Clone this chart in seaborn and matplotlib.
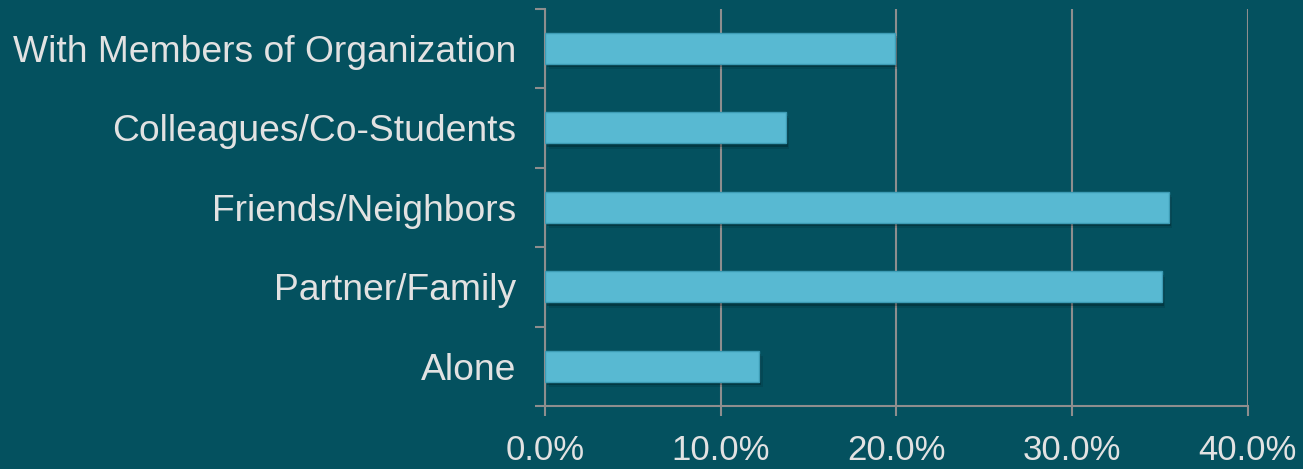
import numpy as np
import pandas as pd
import matplotlib
matplotlib.use('Agg')
import matplotlib.pyplot as plt
import matplotlib.patheffects as pe
from matplotlib.ticker import FixedLocator, PercentFormatter
import seaborn as sns

# data
categories = ['With Members of Organization', 'Colleagues/Co-Students',
              'Friends/Neighbors', 'Partner/Family', 'Alone']
shares = [19.9, 13.7, 35.5, 35.1, 12.2]

bg = '#04515F'
bar_color = '#58B9D2'
line_gray = '#8E8E8E'
text_col = '#E2E2E2'

sns.set_theme(style='white')
plt.rcParams['font.family'] = ['Liberation Sans', 'DejaVu Sans']

df = pd.DataFrame({'category': categories, 'share': shares})

fig = plt.figure(figsize=(13.03, 4.69), dpi=100, facecolor=bg)
ax = fig.add_axes([0.4183, 0.1343, 0.5393, 0.8472])
ax.set_facecolor(bg)

sns.barplot(data=df, x='share', y='category', orient='h', color=bar_color,
            width=0.39, edgecolor='#3D9CB5', linewidth=1, saturation=1, ax=ax)

# soft drop shadow under the bars
for p in ax.patches:
    p.set_path_effects([pe.SimplePatchShadow(offset=(1.5, -2.5), shadow_rgbFace='black', alpha=0.22),
                        pe.SimplePatchShadow(offset=(2.5, -4), shadow_rgbFace='black', alpha=0.1),
                        pe.Normal()])
    p.set_zorder(3)

ax.set_xlim(0, 40)
ax.set_ylim(4.5, -0.5)
ax.set_xticks([0, 10, 20, 30, 40])
ax.xaxis.set_major_formatter(PercentFormatter(decimals=1))
ax.grid(axis='x', color=line_gray, linewidth=1.5, zorder=0)
ax.set_axisbelow(True)

# category boundary ticks on the y axis, labels at centres
ax.yaxis.set_minor_locator(FixedLocator(np.arange(-0.5, 5, 1)))
ax.tick_params(axis='y', which='minor', length=7.2, width=1.5, color=line_gray, direction='out', left=True)
ax.tick_params(axis='y', which='major', length=0, pad=21, labelsize=26.8, labelcolor=text_col)
ax.tick_params(axis='x', which='major', length=7.2, width=1.5, color=line_gray, direction='out',
               bottom=True, pad=13, labelsize=25, labelcolor=text_col)

for side in ['top', 'right']:
    ax.spines[side].set_visible(False)
for side in ['left', 'bottom']:
    ax.spines[side].set_color(line_gray)
    ax.spines[side].set_linewidth(1.5)

ax.set_xlabel('')
ax.set_ylabel('')

fig.savefig('out.png', dpi=100, facecolor=bg)
